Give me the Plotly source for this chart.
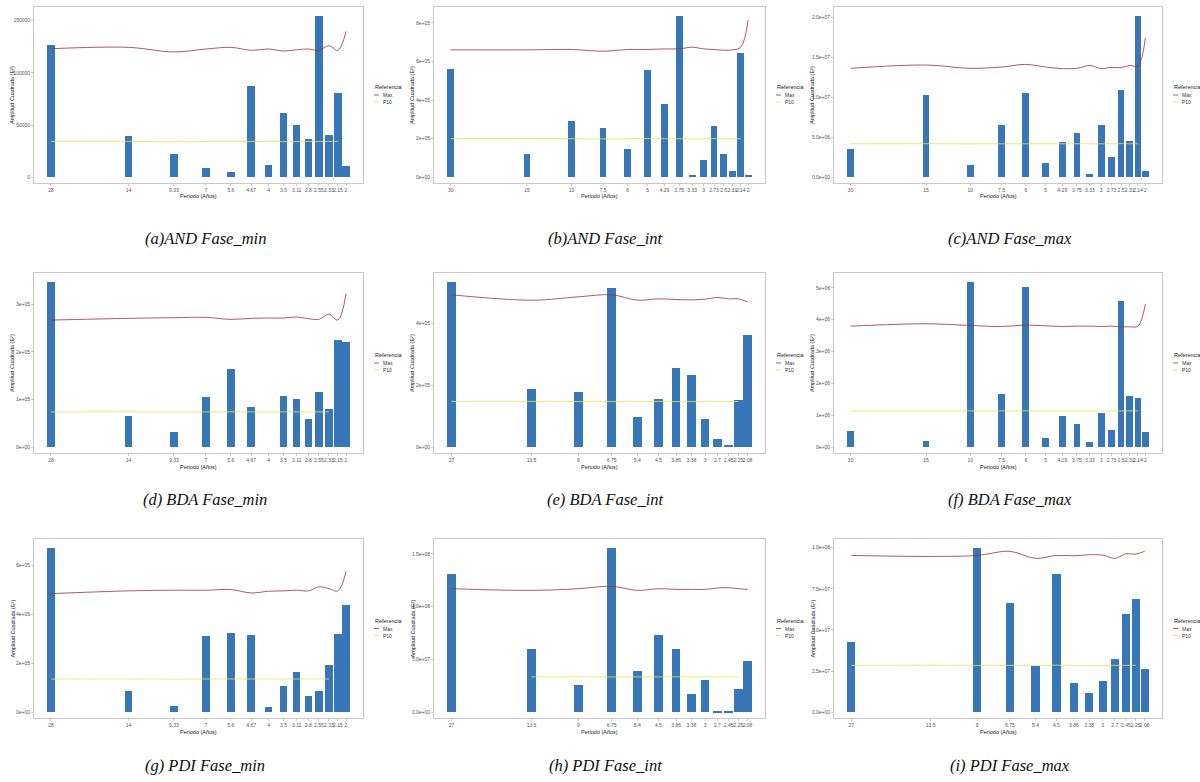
import math
import plotly.graph_objects as go

# Periods (years) of the harmonics in each spectrum
PERIODS_28 = [28, 14, 9.33, 7, 5.6, 4.67, 4, 3.5, 3.11, 2.8, 2.55, 2.33, 2.15, 2]
PERIODS_30 = [30, 15, 10, 7.5, 6, 5, 4.29, 3.75, 3.33, 3, 2.73, 2.5, 2.31, 2.14, 2]
PERIODS_27 = [27, 13.5, 9, 6.75, 5.4, 4.5, 3.86, 3.38, 3, 2.7, 2.45, 2.25, 2.08]

CAPTIONS = ["(a)AND Fase_min", "(b)AND Fase_int", "(c)AND Fase_max",
            "(d) BDA Fase_min", "(e) BDA Fase_int", "(f) BDA Fase_max",
            "(g) PDI Fase_min", "(h) PDI Fase_int", "(i) PDI Fase_max"]

X_TITLE = "Periodo (Años)"
Y_TITLE = "Amplitud Cuadrada (E²)"
LEGEND_TITLE = "Referencia"
LEGEND_NAMES = ["Max", "P10"]

# (a) AND Fase_min
AMP_A = [126200, 39600, 22200, 8560, 4760, 87200, 11700, 61800, 50400, 37100, 154400, 40900, 80500, 10500]
MAX_A = [123000, 124300, 119900, 122700, 124300, 121500, 122700, 120800, 122000, 122700, 121500, 125900, 121500, 139500]
P10_A = [34300, 34400, 34000, 34300, 34500, 34200, 34400, 34100, 34300, 34400, 34200, 34400, 34300, None]
YT_A = [0, 50000, 100000, 150000]
YL_A = ["0", "50000", "100000", "150000"]

# (b) AND Fase_int
AMP_B = [559000, 121400, 292000, 253000, 145200, 554000, 380000, 836000, 12000, 92000, 265000, 121400, 30800, 642000, 13600]
MAX_B = [660000, 660000, 662000, 653000, 662000, 662000, 665000, 665000, 674000, 665000, 662000, 658000, 660000, 674000, 815000]
P10_B = [200000, 201000, 200000, 199000, 200000, 201000, 200000, 200000, 199000, 200000, 201000, 200000, 200000, 200000, None]
YT_B = [0, 200000, 400000, 600000, 800000]
YL_B = ["0e+00", "2e+05", "4e+05", "6e+05", "8e+05"]

# (c) AND Fase_max
AMP_C = [3.5e6, 1.035e7, 1.6e6, 6.5e6, 1.06e7, 1.85e6, 4.4e6, 5.55e6, 3.7e5, 6.5e6, 2.55e6, 1.095e7, 4.5e6, 2.02e7, 7.85e5]
MAX_C = [1.364e7, 1.405e7, 1.364e7, 1.38e7, 1.413e7, 1.38e7, 1.36e7, 1.364e7, 1.40e7, 1.36e7, 1.376e7, 1.372e7, 1.40e7, 1.393e7, 1.744e7]
P10_C = [4.2e6, 4.21e6, 4.19e6, 4.2e6, 4.2e6, 4.21e6, 4.2e6, 4.2e6, 4.19e6, 4.2e6, 4.2e6, 4.21e6, 4.2e6, 4.2e6, None]
YT_C = [0, 5e6, 1e7, 1.5e7, 2e7]
YL_C = ["0.0e+00", "5.0e+06", "1.0e+07", "1.5e+07", "2.0e+07"]

# (d) BDA Fase_min
AMP_D = [346000, 66000, 32000, 106000, 163000, 84000, 0, 107000, 101000, 60000, 116000, 81000, 224000, 220000]
MAX_D = [266400, 270000, 271400, 272100, 267900, 270000, 270700, 270700, 272900, 269300, 267900, 278600, 266400, 321400]
P10_D = [74000, 74200, 73800, 74000, 74100, 74000, 73900, 74000, 74100, 74000, 74000, 74000, None, None]
YT_D = [0, 100000, 200000, 300000]
YL_D = ["0e+00", "1e+05", "2e+05", "3e+05"]

# (e) BDA Fase_int
AMP_E = [534000, 189000, 178000, 514000, 98000, 156000, 256000, 232000, 92000, 28000, 8800, 154000, 362000]
MAX_E = [492900, 475400, 486300, 492900, 475400, 479800, 477600, 476500, 478700, 484200, 479800, 479800, 469900]
P10_E = [148000, 148200, 147800, 148000, 148100, 148000, 147900, 148000, 148100, 148000, 148000, 148000, None]
YT_E = [0, 200000, 400000]
YL_E = ["0e+00", "2e+05", "4e+05"]

# (f) BDA Fase_max
AMP_F = [520000, 200000, 5180000, 1670000, 5020000, 300000, 980000, 730000, 170000, 1085000, 540000, 4600000, 1620000, 1550000, 490000]
MAX_F = [3798000, 3872000, 3819000, 3787000, 3830000, 3809000, 3787000, 3798000, 3798000, 3787000, 3798000, 3777000, 3777000, 3798000, 4489000]
P10_F = [1140000, 1142000, 1138000, 1140000, 1141000, 1140000, 1139000, 1140000, 1141000, 1140000, 1140000, 1140000, 1140000, 1140000, None]
YT_F = [0, 1e6, 2e6, 3e6, 4e6, 5e6]
YL_F = ["0e+00", "1e+06", "2e+06", "3e+06", "4e+06", "5e+06"]

# (g) PDI Fase_min
AMP_G = [672000, 88000, 24000, 314000, 326000, 316000, 20000, 106000, 166000, 68000, 88000, 194000, 322000, 438000]
MAX_G = [485600, 496600, 499400, 499400, 502000, 488200, 495200, 496600, 499400, 496600, 513200, 506200, 496600, 575200]
P10_G = [136000, 136200, 135800, 136000, 136100, 136000, 135900, 136000, 136100, 136000, 136000, 136000, None, None]
YT_G = [0, 200000, 400000, 600000]
YL_G = ["0e+00", "2e+05", "4e+05", "6e+05"]

# (h) PDI Fase_int
AMP_H = [1.31e8, 6.0e7, 2.55e7, 1.555e8, 3.95e7, 7.35e7, 5.95e7, 1.75e7, 3.05e7, 1.3e6, 1.5e6, 2.2e7, 4.85e7]
MAX_H = [1.170e8, 1.154e8, 1.170e8, 1.1925e8, 1.154e8, 1.170e8, 1.1635e8, 1.1635e8, 1.1635e8, 1.1765e8, 1.1795e8, 1.170e8, 1.1635e8]
P10_H = [None, 3.35e7, 3.36e7, 3.34e7, 3.35e7, 3.35e7, 3.36e7, 3.35e7, 3.34e7, 3.35e7, 3.35e7, 3.35e7, None]
YT_H = [0, 5e7, 1e8, 1.5e8]
YL_H = ["0.0e+00", "5.0e+07", "1.0e+08", "1.5e+08"]

# (i) PDI Fase_max
AMP_I = [4.25e7, 0, 9.98e7, 6.65e7, 2.8e7, 8.4e7, 1.775e7, 1.175e7, 1.925e7, 3.225e7, 5.975e7, 6.875e7, 2.6e7]
MAX_I = [9.53e7, 9.47e7, 9.53e7, 9.78e7, 9.35e7, 9.53e7, 9.51e7, 9.57e7, 9.55e7, 9.35e7, 9.63e7, 9.61e7, 9.78e7]
P10_I = [2.85e7, 2.86e7, 2.84e7, 2.85e7, 2.85e7, 2.86e7, 2.85e7, 2.84e7, 2.85e7, 2.85e7, 2.85e7, 2.85e7, None]
YT_I = [0, 2.5e7, 5e7, 7.5e7, 1e8]
YL_I = ["0.0e+00", "2.5e+07", "5.0e+07", "7.5e+07", "1.0e+08"]

panels = [
    (PERIODS_28, AMP_A, MAX_A, P10_A, YT_A, YL_A),
    (PERIODS_30, AMP_B, MAX_B, P10_B, YT_B, YL_B),
    (PERIODS_30, AMP_C, MAX_C, P10_C, YT_C, YL_C),
    (PERIODS_28, AMP_D, MAX_D, P10_D, YT_D, YL_D),
    (PERIODS_27, AMP_E, MAX_E, P10_E, YT_E, YL_E),
    (PERIODS_30, AMP_F, MAX_F, P10_F, YT_F, YL_F),
    (PERIODS_28, AMP_G, MAX_G, P10_G, YT_G, YL_G),
    (PERIODS_27, AMP_H, MAX_H, P10_H, YT_H, YL_H),
    (PERIODS_27, AMP_I, MAX_I, P10_I, YT_I, YL_I),
]

W, H = 1200, 782
COLS = [(34, 363), (434, 765), (834, 1162)]
ROWS = [(7, 183), (273, 453), (539, 718)]
CAPTION_X = [205, 605, 1010]
CAPTION_Y = [238, 499, 765]

BAR_COLOR = "#3777b7"
MAX_COLOR = "#9a3232"
P10_COLOR = "#e6e650"
FRAME = "#c9c9c9"
TICK_FONT = dict(family="Liberation Sans", size=5, color="#555555")


def px(x):
    return x / W


def py(y):
    return 1 - y / H


fig = go.Figure()
annotations = []
shapes = []

for i, (periods, amp, vmax, p10, yt, yl) in enumerate(panels):
    r, c = divmod(i, 3)
    n = "" if i == 0 else str(i + 1)
    x0, x1 = COLS[c]
    y0, y1 = ROWS[r]

    # equal-width bars on the logarithmic period axis
    logs = [math.log10(p) for p in periods]
    min_gap = min(abs(logs[k] - logs[k + 1]) for k in range(len(logs) - 1))
    hw = 0.46 * min_gap
    widths = [p * (10 ** hw - 10 ** -hw) for p in periods]
    offsets = [p * (10 ** -hw - 1) for p in periods]
    span = logs[0] - logs[-1]
    pad = 0.045 * span + hw

    fig.add_trace(go.Bar(
        x=periods, y=amp, width=widths, offset=offsets,
        marker=dict(color=BAR_COLOR, line=dict(width=0)),
        xaxis="x" + n, yaxis="y" + n, showlegend=False,
    ))
    fig.add_trace(go.Scatter(
        x=periods, y=vmax, mode="lines", line=dict(color=MAX_COLOR, width=0.8, shape="spline"),
        xaxis="x" + n, yaxis="y" + n, showlegend=False, connectgaps=False,
    ))
    fig.add_trace(go.Scatter(
        x=periods, y=p10, mode="lines", line=dict(color=P10_COLOR, width=0.8, shape="spline"),
        xaxis="x" + n, yaxis="y" + n, showlegend=False, connectgaps=False,
    ))

    ymax = max(max(amp), max(v for v in vmax if v is not None))
    axis_common = dict(
        showline=True, mirror=True, linecolor=FRAME, linewidth=0.8,
        ticks="outside", ticklen=2, tickwidth=0.6, tickcolor=FRAME,
        showgrid=False, zeroline=False, tickfont=TICK_FONT, tickangle=0,
    )
    fig.update_layout(**{
        "xaxis" + n: dict(
            axis_common, type="log", domain=[px(x0), px(x1)], anchor="y" + n,
            range=[logs[0] + pad, logs[-1] - pad],
            tickmode="array", tickvals=periods, ticktext=[f"{p:g}" for p in periods],
        ),
        "yaxis" + n: dict(
            axis_common, domain=[py(y1), py(y0)], anchor="x" + n,
            range=[-0.035 * ymax, 1.055 * ymax],
            tickmode="array", tickvals=yt, ticktext=yl,
        ),
    })

    # axis titles
    annotations.append(dict(
        text=X_TITLE, x=px((x0 + x1) / 2), y=py(y1 + 13.5), xref="paper", yref="paper",
        showarrow=False, font=dict(family="Liberation Sans", size=5.5, color="#222222"),
        xanchor="center", yanchor="middle",
    ))
    annotations.append(dict(
        text=Y_TITLE, x=px(x0 - 22), y=py((y0 + y1) / 2), xref="paper", yref="paper",
        showarrow=False, textangle=-90, font=dict(family="Liberation Sans", size=5.5, color="#222222"),
        xanchor="center", yanchor="middle",
    ))

    # legend block
    lx = x1 + 10
    ly = (y0 + y1) / 2 - 8
    annotations.append(dict(
        text=LEGEND_TITLE, x=px(lx), y=py(ly), xref="paper", yref="paper",
        showarrow=False, font=dict(family="Liberation Sans", size=5.5, color="#222222"),
        xanchor="left", yanchor="middle",
    ))
    for j, (name, col) in enumerate(zip(LEGEND_NAMES, [MAX_COLOR, P10_COLOR])):
        yy = ly + 8 + 7 * j
        shapes.append(dict(
            type="line", xref="paper", yref="paper",
            x0=px(lx + 1), x1=px(lx + 6), y0=py(yy), y1=py(yy),
            line=dict(color=col, width=0.8),
        ))
        annotations.append(dict(
            text=name, x=px(lx + 8), y=py(yy), xref="paper", yref="paper",
            showarrow=False, font=dict(family="Liberation Sans", size=5, color="#333333"),
            xanchor="left", yanchor="middle",
        ))

    # sub-figure caption
    annotations.append(dict(
        text="<i>" + CAPTIONS[i] + "</i>", x=px(CAPTION_X[c]), y=py(CAPTION_Y[r]),
        xref="paper", yref="paper", showarrow=False,
        font=dict(family="Liberation Serif", size=16.5, color="#111111"),
        xanchor="center", yanchor="middle",
    ))

fig.update_layout(
    width=W, height=H, margin=dict(l=0, r=0, t=0, b=0),
    paper_bgcolor="white", plot_bgcolor="white",
    bargap=0, barmode="overlay",
    annotations=annotations, shapes=shapes,
    showlegend=False,
)

fig.write_html("out.html")
